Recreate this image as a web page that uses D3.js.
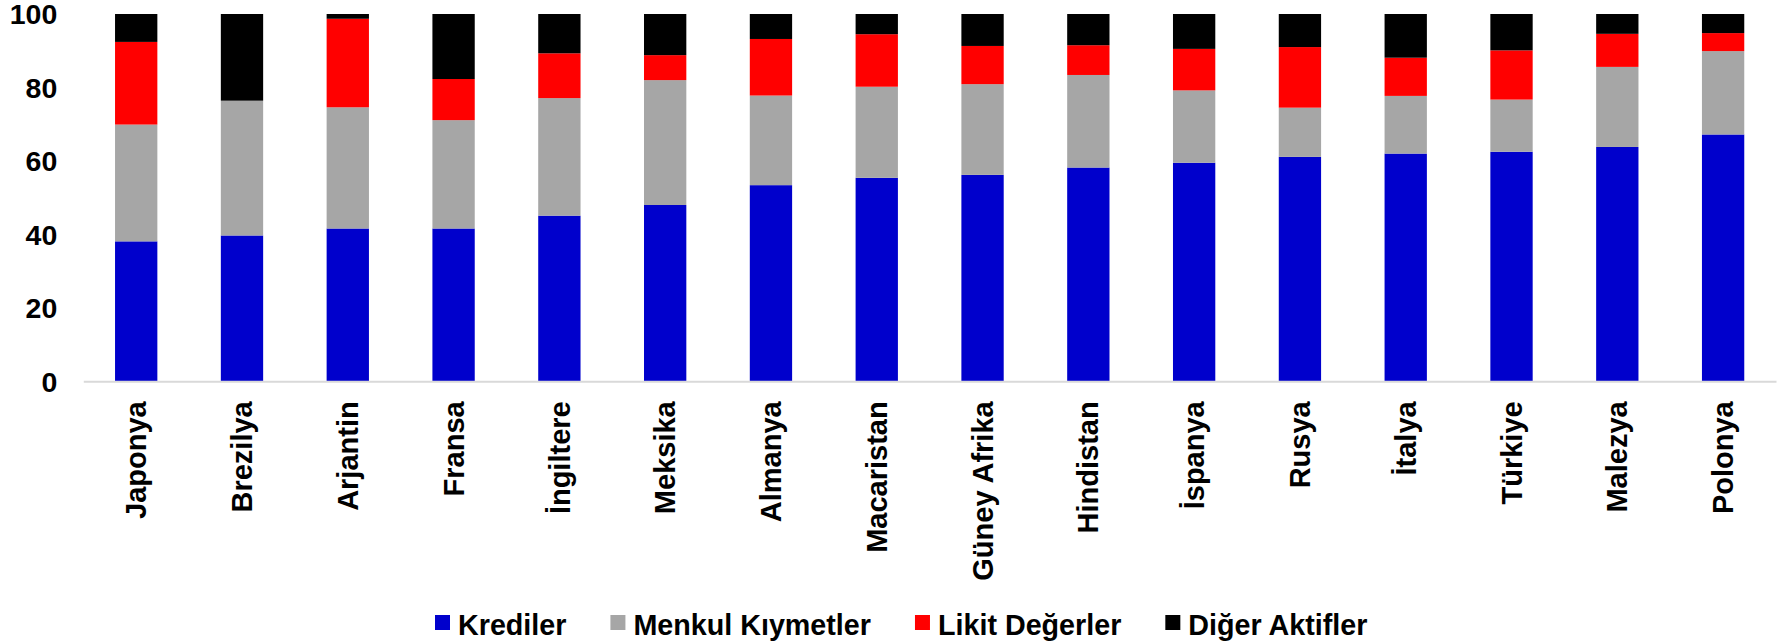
<!DOCTYPE html>
<html>
<head>
<meta charset="utf-8">
<script src="https://cdn.jsdelivr.net/npm/d3@7"></script>
<style>
  html, body { margin: 0; padding: 0; background: #fff; }
  svg { display: block; }
  text { font-family: "Liberation Sans", Arial, sans-serif; font-weight: bold; fill: #000; }
</style>
</head>
<body>
<svg id="chart" width="1788" height="643"></svg>
<script>
const categories = ["Japonya","Brezilya","Arjantin","Fransa","İngiltere","Meksika","Almanya","Macaristan","Güney Afrika","Hindistan","İspanya","Rusya","İtalya","Türkiye","Malezya","Polonya"];
const seriesNames = ["Krediler","Menkul Kıymetler","Likit Değerler","Diğer Aktifler"];
const krediler       = [38.1, 39.7, 41.6, 41.6, 45.1, 48.0, 53.4, 55.4, 56.2, 58.2, 59.5, 61.1, 62.0, 62.5, 63.8, 67.2];
const menkulKiymetler= [31.8, 36.7, 33.0, 29.5, 32.0, 34.0, 24.4, 24.8, 24.7, 25.2, 19.7, 13.4, 15.7, 14.2, 21.8, 22.7];
const likitDegerler  = [22.5,  0.0, 24.1, 11.2, 12.2,  6.8, 15.4, 14.3, 10.4,  8.1, 11.3, 16.5, 10.4, 13.4,  9.0,  4.9];
const digerAktifler  = [ 7.6, 23.6,  1.3, 17.7, 10.7, 11.2,  6.8,  5.5,  8.7,  8.5,  9.5,  9.0, 11.9,  9.9,  5.4,  5.2];
const yTicks = [0, 20, 40, 60, 80, 100];
const colors = ["#0000CC", "#A6A6A6", "#FF0000", "#000000"];

const seriesValues = [krediler, menkulKiymetler, likitDegerler, digerAktifler];
const rows = categories.map((c, i) => {
  const r = { cat: c };
  seriesNames.forEach((s, j) => r[s] = seriesValues[j][i]);
  return r;
});

const svg = d3.select("#chart");
const mLeft = 83.3, mRight = 1776, mTop = 14, mBottom = 381.3;
const FONT = '"Liberation Sans", Arial, sans-serif';

const x = d3.scaleBand().domain(categories).range([mLeft, mRight]).paddingInner(0.6).paddingOuter(0.3);
const y = d3.scaleLinear().domain([0, 100]).range([mBottom, mTop]);
const color = d3.scaleOrdinal().domain(seriesNames).range(colors);

const stacked = d3.stack().keys(seriesNames)(rows);

svg.append("g").selectAll("g")
  .data(stacked)
  .join("g")
  .attr("fill", d => color(d.key))
  .selectAll("rect")
  .data(d => d)
  .join("rect")
  .attr("x", d => x(d.data.cat))
  .attr("width", x.bandwidth())
  .attr("y", d => y(d[1]))
  .attr("height", d => Math.max(0, y(d[0]) - y(d[1])));

// Y axis labels
const yAxis = svg.append("g")
  .attr("transform", `translate(${mLeft},0)`)
  .call(d3.axisLeft(y).tickValues(yTicks).tickSize(0).tickPadding(26));
yAxis.select(".domain").remove();
yAxis.selectAll("text")
  .style("font-family", FONT)
  .style("font-weight", "bold")
  .style("font-size", "28.5px")
  .attr("fill", "#000")
  .attr("dy", "0.34em");

// X axis
const xAxis = svg.append("g")
  .attr("transform", `translate(0,${mBottom})`)
  .call(d3.axisBottom(x).tickSize(0).tickSizeOuter(0));
xAxis.select(".domain").attr("stroke", "#d9d9d9").attr("stroke-width", 2);
xAxis.selectAll(".tick text")
  .style("font-family", FONT)
  .style("font-weight", "bold")
  .style("font-size", "29px")
  .attr("fill", "#000")
  .attr("text-anchor", "end")
  .attr("transform", "translate(0,20) rotate(-90)")
  .attr("x", 0)
  .attr("y", 0)
  .attr("dy", "0.35em");

// Legend
const legend = svg.append("g").attr("transform", "translate(435,0)");
let lx = 0;
seriesNames.forEach((s, i) => {
  const g = legend.append("g").attr("transform", `translate(${lx},0)`);
  g.append("rect").attr("x", 0).attr("y", 615).attr("width", 15).attr("height", 15).attr("fill", colors[i]);
  const t = g.append("text").attr("x", 23).attr("y", 635)
    .style("font-size", "28.7px").text(s);
  lx += 23 + t.node().getComputedTextLength() + 44;
});
</script>
</body>
</html>
